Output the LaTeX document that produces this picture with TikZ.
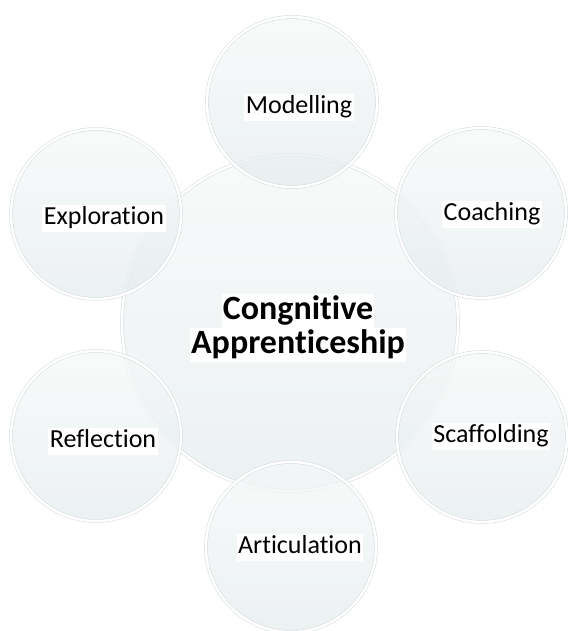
\documentclass[tikz,border=0pt]{standalone}
\usepackage{fontspec}
\setmainfont[RawFeature=-liga]{Carlito}
\usepackage{xcolor}
\usetikzlibrary{positioning}

\definecolor{bubbletop}{RGB}{246,248,248}
\definecolor{bubblebot}{RGB}{229,236,237}
\definecolor{bubbleedge}{RGB}{210,219,221}

\tikzset{
  bubble/.style={circle, minimum size=170pt, inner sep=0pt,
    top color=bubbletop, bottom color=bubblebot, fill opacity=0.75,
    draw=bubbleedge, line width=0.5pt, double=white, double distance=2.5pt},
  bigbubble/.style={bubble, minimum size=336pt},
  tag/.style={fill=white, inner sep=1.5pt, text height=18pt, text depth=6pt,
    font=\fontsize{26}{30}\selectfont},
  bigtag/.style={fill=white, inner sep=1pt, text height=24pt, text depth=8pt,
    font=\fontsize{34}{38}\selectfont\bfseries}
}

\begin{document}
\begin{tikzpicture}[x=1pt,y=-1pt]
            \useasboundingbox (0,0) rectangle (567,631);
            \node[bigbubble] (core) at (290,323) {};
            \node[bubble] (model) at (292,102) {};
            \node[bubble] (coach) at (481,213) {};
            \node[bubble] (scaff) at (482,437) {};
            \node[bubble] (artic) at (291,547) {};
            \node[bubble] (refl) at (96,436) {};
            \node[bubble] (expl) at (96,214) {};
            \node[tag] (model-t) at (299,108) {Modelling};
            \node[tag] (coach-t) at (492,214) {Coaching};
            \node[tag] (scaff-t) at (491,436) {Scaffolding};
            \node[tag] (artic-t) at (300,547) {Articulation};
            \node[tag] (refl-t) at (103,441) {Reflection};
            \node[tag] (expl-t) at (104,218) {Exploration};
            \node[bigtag] (core-t1) at (298,311) {Congnitive};
            \node[bigtag, below=0pt of core-t1] (core-t2) {Apprenticeship};
        \end{tikzpicture}
\end{document}
